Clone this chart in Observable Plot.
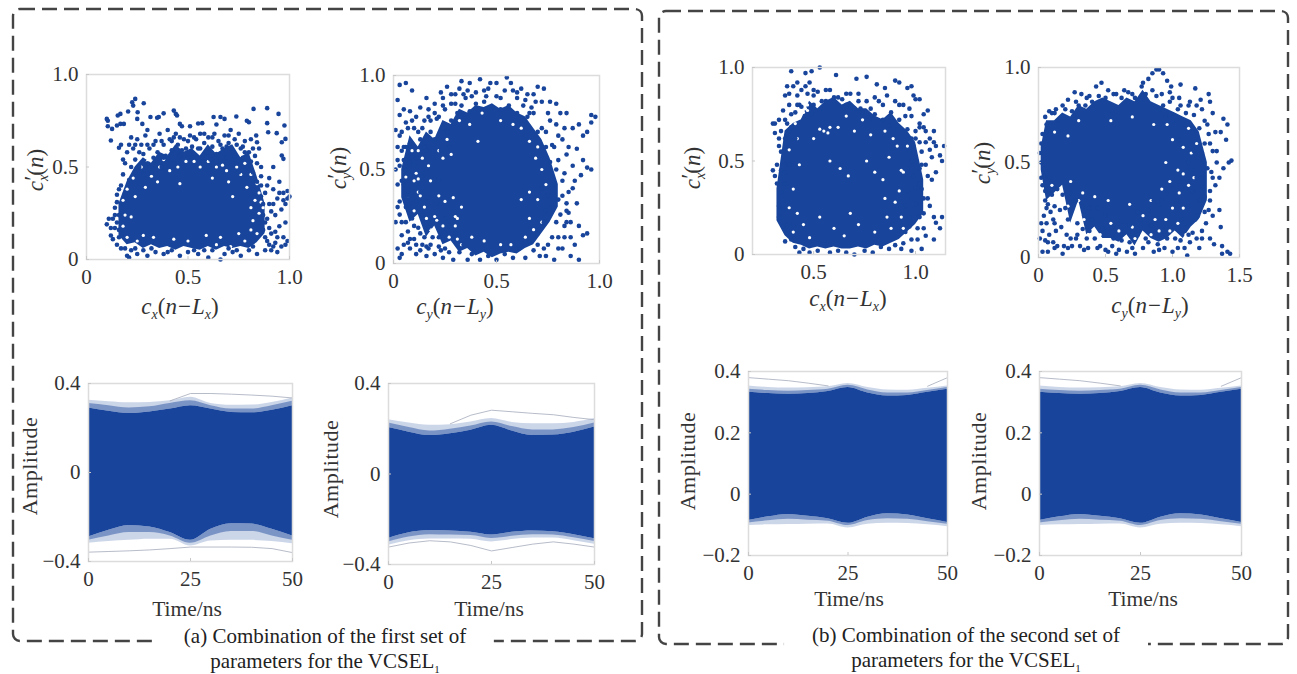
<!DOCTYPE html>
<html><head><meta charset="utf-8">
<script src="https://cdn.jsdelivr.net/npm/d3@7"></script>
<script src="https://cdn.jsdelivr.net/npm/@observablehq/plot@0.6"></script>
<style>
html,body{margin:0;padding:0;background:#fff}
#page{position:relative;width:1297px;height:674px;overflow:hidden;font-family:"Liberation Serif",serif;color:#333}
#page svg.box{position:absolute;left:0;top:0}
.plotwrap{position:absolute}
.lab{position:absolute;white-space:nowrap;font-size:21.5px;line-height:1;transform:translate(-50%,-50%)}
.lab.rot{transform:translate(-50%,-50%) rotate(-90deg)}
.lab.m{font-size:23px}
.lab.w{letter-spacing:.5px;font-size:22px}
.lab sub{font-size:14px;font-style:italic;vertical-align:-5px;line-height:0}
.lab .pr{display:inline-block;margin-left:-6px;transform:translateY(-3px);font-style:normal}
.lab .mn{padding:0 1px}
.cap{position:absolute;text-align:center;font-size:21px;line-height:25px;background:#fff;color:#222;transform:translateX(-50%);white-space:nowrap}
.cap sub{font-size:11px;line-height:0}
</style></head><body><div id="page"></div>
<script>
// ---------- dense cores: envelope of the solid region ----------
const coreStationsA=[.16,.2,.24,.28,.32,.36,.4,.44,.48,.52,.56,.6,.64,.68,.72,.76,.8,.84,.88];
const coreTopA=[.3,.42,.5,.55,.52,.58,.56,.62,.58,.6,.56,.62,.57,.6,.62,.55,.58,.45,.3];
const coreLowA=[.13,.08,.09,.06,.08,.06,.07,.05,.07,.06,.05,.07,.05,.07,.06,.07,.06,.09,.14];
const coreStationsB=[.04,.08,.12,.16,.2,.24,.28,.32,.36,.4,.44,.48,.52,.56,.6,.64,.68,.72,.76,.8];
const coreTopB=[.5,.68,.62,.7,.66,.76,.74,.82,.8,.84,.83,.85,.82,.84,.8,.78,.72,.66,.56,.42];
const coreLowB=[.35,.22,.26,.14,.2,.1,.12,.06,.08,.04,.06,.03,.05,.06,.05,.08,.1,.16,.22,.3];
const coreStationsC=[.32,.36,.4,.44,.48,.52,.56,.6,.64,.68,.72,.76,.8,.84,.88,.92,.96,1,1.04];
const coreTopC=[.35,.66,.7,.72,.82,.78,.82,.84,.8,.82,.78,.78,.74,.72,.76,.7,.66,.6,.4];
const coreLowC=[.18,.1,.06,.05,.03,.04,.03,.04,.03,.03,.04,.03,.05,.04,.06,.08,.12,.16,.22];
const coreStationsD=[.02,.06,.12,.18,.24,.3,.36,.42,.48,.54,.6,.66,.72,.78,.84,.9,.96,1.02,1.08,1.14,1.2,1.26];
const coreTopD=[.58,.72,.72,.76,.74,.8,.78,.82,.84,.82,.8,.84,.82,.88,.82,.8,.78,.76,.74,.72,.66,.5];
const coreLowD=[.46,.3,.34,.38,.18,.3,.12,.16,.1,.1,.08,.12,.06,.14,.1,.08,.1,.14,.1,.16,.2,.3];

// ---------- scatter values: [x, y] ----------
const pointsA=[[.1,.76],[.105,.75],[.105,.72],[.126,.706],[.15,.724],[.167,.733],[.184,.733],[.12,.643],[.16,.604],[.154,.778],[.167,.787],[.205,.8],[.225,.85],[.24,.868],[.23,.832],[.252,.796],[.282,.845],[.25,.76],[.275,.733],[.3,.7],[.315,.77],[.348,.766],[.356,.77],[.38,.79],[.43,.805],[.44,.787],[.446,.778],[.823,.814],[.89,.818],[.946,.787],[.89,.737],[.895,.688],[.937,.683],[.975,.724],[.98,.652],[.962,.634],[.962,.562],[.97,.544],[.738,.773],[.66,.77],[.626,.77],[.57,.737],[.51,.72],[.46,.733],[.8,.742],[.79,.75],[.836,.67],[.84,.634],[.68,.76],[.64,.73],[.55,.735],
[.17,.62],[.19,.52],[.2,.58],[.22,.66],[.23,.6],[.24,.54],[.25,.65],[.26,.5],[.27,.62],[.28,.57],[.29,.67],[.3,.52],[.31,.6],[.32,.47],[.33,.55],[.34,.64],[.35,.58],[.36,.68],[.37,.5],[.38,.62],[.39,.56],[.4,.7],[.41,.65],[.42,.59],[.43,.52],[.44,.68],[.45,.62],[.46,.56],[.47,.72],[.48,.65],[.49,.6],[.5,.55],[.51,.67],[.52,.61],[.53,.57],[.54,.65],[.55,.6],[.56,.68],[.57,.55],[.58,.63],[.59,.58],[.6,.66],[.61,.54],[.62,.61],[.63,.68],[.64,.57],[.65,.64],[.66,.53],[.67,.6],[.68,.67],[.69,.55],[.7,.63],[.71,.7],[.72,.58],[.73,.65],[.74,.52],[.75,.68],[.76,.6],[.77,.55],[.78,.64],[.79,.5],[.8,.58],[.81,.65],[.82,.47],[.83,.56],[.84,.42],[.85,.6],[.86,.5],
[.22,.5],[.26,.58],[.3,.62],[.34,.51],[.38,.55],[.42,.64],[.47,.59],[.52,.55],[.56,.6],[.6,.58],[.65,.56],[.69,.61],[.73,.56],[.77,.61],[.81,.53],[.21,.43],[.24,.47],[.28,.46],[.75,.47],[.79,.44],[.83,.36],[.86,.34],
[.24,.62],[.33,.62],[.37,.64],[.43,.66],[.46,.66],[.5,.64],[.53,.66],[.58,.68],[.62,.66],[.66,.62],[.7,.67],[.74,.62],[.78,.58],[.82,.6],[.84,.52],[.18,.54],[.21,.62],
[.86,.4],[.87,.3],[.88,.36],[.89,.22],[.9,.44],[.9,.3],[.91,.14],[.92,.5],[.92,.38],[.93,.24],[.93,.09],[.94,.33],[.95,.18],[.95,.42],[.96,.07],[.96,.27],[.97,.36],[.97,.12],[.98,.3],[.98,.2],[.99,.37],[.99,.1],[1,.34],[.98,.08],[.89,.1],[.87,.16],[.88,.05],[.91,.05],[.94,.04],[.87,.24],[.85,.2],[.9,.17],[.94,.12],[.92,.3],[.89,.4],[.91,.26],[.95,.36],[.93,.15],[.88,.2],[.9,.08],[.92,.07],[.86,.45],[.88,.12],[.97,.32],[.99,.33],
[.1,.19],[.11,.22],[.12,.13],[.13,.22],[.14,.28],[.14,.17],[.15,.08],[.15,.35],[.16,.24],[.16,.12],[.17,.4],[.17,.06],[.18,.46],[.18,.3],[.15,.2],[.13,.11],[.19,.36],[.14,.24],[.15,.31],[.12,.17],[.16,.38],[.16,.16],
[.2,.02],[.22,.05],[.21,.01],[.25,.03],[.28,.05],[.3,.02],[.34,.04],[.38,.03],[.42,.05],[.46,.02],[.5,.04],[.55,.03],[.6,.01],[.62,.05],[.66,0],[.68,.03],[.72,.04],[.76,.02],[.8,.05],[.84,.03],[.19,.06],[.24,.06],[.32,.06],[.4,.04],[.53,.05],[.58,.05],[.7,.06],[.74,.05],[.82,.07]];
const holesA=[[.85,.36],[.85,.25],[.72,.34],[.64,.5],[.36,.5],[.32,.45],[.29,.39],[.18,.32],[.22,.23],[.82,.21],[.81,.16],[.71,.07],[.64,.08],[.59,.13],[.33,.12],[.46,.41],[.53,.53],[.41,.48],[.23,.44],[.69,.48],[.76,.46],[.79,.39],[.87,.28],[.2,.38],[.27,.5],[.3,.53],[.35,.42],[.38,.54],[.45,.5],[.49,.53],[.56,.5],[.6,.53],[.62,.44],[.67,.51],[.7,.42],[.74,.5],[.78,.52],[.81,.46],[.83,.32],[.81,.28],[.84,.14],[.78,.1],[.75,.14],[.25,.1],[.2,.12],[.28,.13],[.43,.11],[.5,.1],[.66,.12],[.24,.34],[.18,.18],[.19,.24],[.84,.41],[.86,.31]];

const pointsB=[[.02,.87],[.03,.79],[.03,.95],[.06,.96],[.09,.92],[.05,.82],[.08,.81],[.01,.71],[.13,.83],[.16,.88],[.17,.82],[.2,.8],[.23,.91],[.26,.94],[.28,.85],[.3,.9],[.33,.97],[.37,.96],[.38,.89],[.42,.98],[.44,.92],[.47,.96],[.5,.96],[.52,.88],[.55,.99],[.57,.96],[.58,.92],[.62,.93],[.65,.9],[.68,.9],[.7,.94],[.73,.93],[.76,.86],[.79,.85],[.81,.8],[.84,.8],[.87,.72],[.9,.74],[.92,.68],[.94,.7],[.89,.61],[.92,.55],[.94,.51],[.96,.5],[.91,.47],[.92,.15],[.94,.16],[.9,.2],[.96,.79],[.98,.78],[.96,.75],
[.02,.62],[.04,.7],[.05,.55],[.06,.75],[.07,.48],[.08,.64],[.09,.4],[.1,.72],[.11,.56],[.12,.3],[.13,.66],[.14,.46],[.15,.76],[.16,.6],[.17,.35],[.18,.7],[.19,.22],[.02,.42],[.03,.33],[.04,.22],[.05,.1],[.06,.3],[.07,.17],[.08,.08],[.09,.24],[.1,.13],[.11,.33],[.12,.19],[.13,.07],[.14,.26],[.15,.14],[.16,.04],[.17,.19],[.18,.1],[.01,.22],[.02,.08],[.03,.03],[.1,.52],[.13,.38],[.06,.62],[.16,.5],[.03,.52],[.01,.5],[.02,.3],[.04,.44],[.05,.62],[.07,.72],[.11,.78],[.14,.72],[.18,.76],[.22,.78],[.25,.82],[.03,.68],[.04,.15],[.08,.13],[.11,.05],[.14,.1],[.17,.08],[.2,.05],[.23,.07],[.06,.22],
[.2,.66],[.21,.77],[.22,.14],[.23,.6],[.24,.84],[.25,.08],[.26,.7],[.27,.2],[.28,.76],[.29,.02],[.3,.16],[.31,.8],[.32,.06],[.33,.84],[.34,.1],[.35,.88],[.36,.02],[.37,.81],[.38,.05],[.4,.85],[.42,.02],[.44,.86],[.46,.04],[.48,.83],[.5,.02],[.52,.82],[.54,.05],[.56,.84],[.58,.03],[.6,.8],[.61,.08],[.63,.84],[.64,.03],[.65,.78],[.66,.12],[.68,.07],[.68,.8],[.7,.16],[.71,.04],[.72,.72],[.73,.22],[.74,.62],[.75,.1],[.76,.76],[.77,.3],[.78,.02],[.79,.5],[.8,.14],[.8,.68],[.82,.36],[.83,.2],[.84,.58],[.85,.27],[.86,.04],[.87,.4],[.88,.1],[.89,.32],[.9,.02],[.78,.42],[.81,.26],[.76,.54],[.75,.36],[.72,.4],[.83,.48],[.85,.38],[.74,.28],[.79,.22],[.77,.63],[.7,.7],[.66,.8],[.27,.62],[.24,.72],[.22,.45],[.25,.24],[.21,.32],[.82,.44],[.8,.55],[.84,.32],[.78,.62],[.82,.66],[.74,.7],[.69,.86],[.6,.88],[.45,.89],[.34,.9],[.3,.85],[.86,.14],[.82,.08],[.77,.14],[.73,.08],[.8,.34],[.84,.22],
[.04,.6],[.06,.5],[.08,.54],[.02,.55],[.05,.42],[.07,.36],[.03,.26],[.09,.3],[.11,.42],[.13,.5],[.15,.62],[.12,.7],[.09,.76],[.17,.78],[.2,.85],[.24,.88],[.28,.9],[.32,.93],[.36,.92],[.4,.91],[.46,.93],[.5,.89],[.54,.92],[.6,.91],[.64,.87],[.67,.83],[.72,.86],[.75,.8],[.79,.74],[.83,.72],[.85,.62],[.87,.52],[.88,.44],[.84,.28],[.86,.22],[.83,.14],[.8,.08],[.7,.1],[.74,.04],[.1,.2],[.13,.16],[.16,.09],[.07,.11],[.04,.05],[.11,.1],[.19,.14],[.22,.09],[.24,.03],[.27,.06]];
const holesB=[[.11,.48],[.12,.45],[.1,.44],[.07,.2],[.08,.19],[.2,.25],[.21,.23],[.12,.38],[.13,.36],[.3,.2],[.09,.6],[.14,.56],[.18,.44],[.17,.52],[.22,.6],[.24,.56],[.2,.73],[.26,.66],[.28,.58],[.32,.76],[.37,.74],[.41,.65],[.43,.8],[.52,.76],[.58,.74],[.62,.72],[.66,.65],[.69,.56],[.72,.5],[.7,.62],[.74,.42],[.7,.34],[.72,.22],[.68,.18],[.66,.24],[.64,.14],[.57,.1],[.52,.1],[.44,.12],[.38,.14],[.31,.13],[.33,.1],[.27,.14],[.24,.2],[.18,.18],[.15,.3],[.16,.24],[.1,.28],[.22,.36],[.25,.33],[.29,.35],[.33,.3],[.07,.36],[.06,.46],[.12,.6],[.3,.25],[.31,.24],[.62,.34],[.66,.38]];

const pointsC=[[.39,.98],[.46,.97],[.49,.98],[.53,1],[.61,.96],[.71,.94],[.76,.95],[.81,.91],[.85,.89],[.9,.93],[.92,.92],[.96,.89],[.98,.9],[1,.83],[1.02,.83],[.99,.85],[1.06,.77],[1.04,.75],[1.09,.66],[1.07,.62],[1.14,.58],[1.12,.53],[1.13,.5],[1.1,.44],[1.08,.4],[1.06,.3],[1.09,.2],[1.13,.2],[1.1,.17],[1.12,.14],[1.05,.1],[1.09,.08],[1.03,.03],
[.3,.7],[.31,.65],[.3,.45],[.31,.42],[.33,.58],[.33,.72],[.32,.48],[.34,.2],[.35,.77],[.34,.33],[.35,.15],[.36,.07],[.36,.85],[.37,.9],[.38,.8],[.39,.68],[.4,.9],[.41,.76],[.42,.92],[.43,.8],[.44,.88],[.45,.72],[.47,.86],[.48,.92],[.5,.8],[.52,.87],[.54,.82],[.56,.82],[.58,.88],[.6,.8],[.62,.84],[.64,.83],[.66,.8],[.68,.86],[.7,.78],[.72,.82],[.74,.76],[.76,.82],[.78,.78],[.8,.75],[.82,.82],[.84,.72],[.86,.85],[.88,.76],[.9,.82],[.92,.72],[.94,.8],[.96,.67],[.98,.74],[1,.66],[1.02,.6],[1.04,.68],[.94,.6],[.97,.55],[1,.5],[1.03,.55],[1.05,.48],[.99,.42],[1.02,.38],[.96,.34],[1,.27],[1.04,.22],[.97,.2],[1.01,.14],[.98,.08],[.95,.12],[1.07,.56],[1.08,.52],[.98,.62],[.94,.42],[.96,.46],[.95,.26],
[.36,.62],[.35,.5],[.36,.38],[.37,.28],[.38,.48],[.34,.45],[.33,.26],[.35,.24],[.37,.16],[.39,.08],[.41,.04],[.43,.01],[.45,.03],[.48,.01],[.52,.02],[.58,.01],[.62,.02],[.66,.01],[.7,0],[.75,.02],[.79,.01],[.83,.04],[.87,.03],[.9,.05],[.94,.06],[.98,.02],[.4,.16],[.38,.66],[.37,.7],[.41,.62],[.44,.79],[.49,.75],[.53,.77],[.6,.84],[.68,.79],[.73,.78],[.79,.72],[.87,.69],[.91,.67],[.34,.66],[.34,.55],[.32,.38],[.33,.2],[.36,.72],[.39,.75],[.42,.85],[.46,.9],[.5,.88],[.56,.88],[.98,.3],[1.02,.46],[1.0,.36],[.98,.5],[.97,.15],[1,.62],[1.02,.68],[.95,.74],[.99,.58],[1.05,.6],[1.04,.3],[1.02,.2],
[.33,.62],[.31,.7],[.38,.86],[.42,.8],[.5,.85],[.66,.86],[.72,.86],[.8,.84],[.84,.8],[.92,.8],[.97,.78],[1.02,.7],[1.05,.66],[1.09,.6],[1.1,.58],[1.03,.48],[1.06,.42],[1.03,.35],[1.07,.26],[1.04,.14],[1.01,.08],[.93,.03],[.36,.44]];
const holesC=[[.46,.78],[.47,.77],[.45,.76],[.47,.8],[.55,.66],[.57,.65],[.53,.67],[.41,.7],[.58,.5],[.63,.46],[.67,.42],[.76,.5],[.8,.44],[.87,.52],[.91,.58],[.93,.45],[.94,.44],[.92,.34],[.9,.28],[.93,.2],[.94,.14],[.86,.2],[.88,.14],[.8,.12],[.72,.16],[.68,.22],[.6,.14],[.53,.2],[.45,.16],[.42,.22],[.38,.25],[.4,.35],[.43,.48],[.38,.56],[.42,.62],[.5,.62],[.62,.68],[.7,.66],[.74,.72],[.78,.64],[.85,.66],[.89,.62],[.96,.58],[.84,.4],[.85,.3],[.4,.12],[.48,.09],[.65,.1],[.58,.68],[.66,.74]];

const pointsD=[[.77,.9],[.82,.94],[.85,.97],[.88,.99],[.9,.99],[.93,.97],[.96,.93],[1.06,.91],[1.17,.89],[1.27,.86],[.99,.9],[.98,.87],[1.05,.84],[1.13,.82],[1.21,.83],[1.28,.82],[1.3,.76],[1.38,.73],[1.41,.7],[1.36,.66],[1.4,.62],[1.44,.51],[1.42,.5],[1.38,.47],[1.33,.5],[1.35,.42],[1.32,.38],[1.28,.35],[1.35,.25],[1.3,.22],[1.36,.16],[1.28,.1],[1.22,.1],[1.31,.07],[1.37,.06],[1.41,.03],[1.43,.02],[1.37,.02],[1.2,.05],[1.11,.01],[1.09,.05],
[.27,.87],[.32,.86],[.38,.85],[.43,.9],[.47,.92],[.5,.84],[.56,.86],[.62,.84],[.67,.87],[.72,.84],[.8,.86],[.88,.85],[.93,.8],[.98,.82],[1.04,.78],[1.1,.76],[1.16,.75],[1.22,.78],[1.26,.7],[1.2,.68],[1.28,.6],[1.32,.66],[1.15,.66],[1.22,.55],[1.26,.47],[1.18,.42],[1.24,.32],[1.15,.35],[1.12,.27],[1.19,.22],[1.25,.18],[1.1,.18],[1.15,.13],[1.03,.3],[1.07,.2],[1.02,.1],[.97,.22],[.93,.14],[.89,.07],[.84,.17],[.8,.1],[.76,.2],[.72,.02],[.68,.08],[.64,.13],[.6,.04],[.56,.1],[.52,.03],[.48,.15],[.44,.05],[.4,.2],[.36,.1],[.33,.27],[.29,.18],[.26,.3],[.22,.2],[.19,.06],[.18,.02],[.16,.25],[.12,.18],[.08,.12],[.06,.18],[.04,.22],[.07,.03],[.03,.03],[.05,.09],[.11,.08],[.14,.06],[.24,.1],[.31,.06],[.38,.14],[.42,.1],
[.01,.55],[.02,.6],[.03,.65],[.04,.43],[.05,.74],[.06,.7],[.08,.77],[.1,.76],[.13,.78],[.15,.72],[.18,.8],[.22,.83],[.25,.77],[.3,.8],[.35,.8],[.4,.82],[.02,.5],[.03,.38],[.05,.35],[.08,.42],[.06,.26],[.1,.33],[.14,.36],[.12,.27],[.18,.33],[.2,.26],[.24,.34],[.28,.3],[.34,.22],[.38,.26],[.44,.26],[.5,.22],[.55,.16],[.62,.19],[.68,.17],[.74,.24],[.82,.25],[.86,.3],[.9,.28],[.96,.34],[1.0,.36],[1.06,.4],[1.12,.5],[1.16,.56],[1.08,.7],[1.03,.72],[.95,.74],[.9,.78],[1.14,.46],[1.1,.36],[.88,.22],[.92,.3],[1.05,.62],[1.24,.6],[1.3,.56],[1.29,.45],[1.22,.42],[1.2,.3],[1.27,.25],[1.22,.14],[1.17,.2],[1.13,.08],[.28,.1],[.22,.05],[.34,.04],[.46,.06],[.58,.02],[.66,.03],[.78,.05],[.86,.03],[.94,.05],[1.0,.03],[1.06,.09],[.12,.05],[.02,.18],[.07,.28],[.11,.2],[.01,.1],
[.02,.42],[.05,.3],[.09,.24],[.13,.14],[.17,.16],[.21,.12],[.25,.06],[.29,.12],[.33,.15],[.37,.05],[.03,.14],[.07,.08],[.5,.04],[.55,.06],[.62,.09],[.7,.05],[.74,.12],[.82,.08],[.9,.04],[.96,.1],[1.04,.05],[1.12,.12],[1.18,.1],[1.24,.24],[1.28,.3],[1.3,.42],[1.33,.56],[1.27,.65],[1.24,.72],[1.18,.8],[1.12,.8],[1.06,.8],[1.0,.84],[.92,.86],[.85,.88],[.78,.92],[.7,.86],[.64,.88],[.58,.86],[.52,.88],[.45,.85],[.36,.84],[.28,.82],[.2,.78],[.12,.76],[.06,.66]];
const holesD=[[.14,.1],[.15,.09],[.13,.08],[.16,.11],[.14,.13],[.33,.11],[.32,.09],[.12,.22],[.2,.14],[.22,.27],[.28,.22],[.34,.2],[.3,.3],[.14,.3],[.1,.38],[.16,.36],[.24,.4],[.33,.34],[.4,.14],[.46,.12],[.5,.08],[.54,.18],[.6,.14],[.64,.1],[.7,.16],[.72,.1],[.78,.22],[.84,.12],[.87,.2],[.9,.14],[.95,.2],[.98,.14],[1,.26],[1.04,.18],[1.08,.26],[1.1,.12],[.84,.3],[.92,.36],[.98,.4],[1.04,.46],[1.08,.44],[1.12,.38],[1.16,.42],[1.14,.55],[1.18,.6],[1.08,.58],[1,.62],[1.12,.68],[.96,.7],[.86,.7],[.7,.74],[.54,.72],[.3,.72],[.22,.64],[.12,.66],[.68,.28],[.52,.3],[.42,.32],[.95,.5],[1.05,.34]];

// ---------- eye diagram envelopes ----------
const eyeTimes=[0,5,10,15,20,25,30,35,40,45,50];
const eyeA={solidTop:[.29,.275,.265,.272,.285,.3,.285,.27,.268,.28,.3],solidLow:[-.29,-.26,-.238,-.245,-.27,-.305,-.255,-.23,-.232,-.255,-.285],
 fringeTop:[.325,.318,.313,.315,.322,.338,.31,.302,.303,.315,.335],fringeLow:[-.318,-.31,-.305,-.3,-.3,-.33,-.308,-.305,-.305,-.31,-.32],
 streakTop:[.31,.3,.29,.295,.31,.322,.3,.285,.285,.3,.32],streakLow:[-.305,-.285,-.27,-.27,-.285,-.318,-.285,-.265,-.265,-.285,-.305],
 outTop:[null,null,null,null,.322,.355,.355,.352,.348,.343,.335],outLow:[-.358,-.355,-.352,-.348,-.342,-.335,-.335,-.335,-.336,-.342,-.36]};
const eyeB={solidTop:[.205,.185,.17,.178,.193,.215,.19,.17,.172,.185,.208],solidLow:[-.285,-.26,-.25,-.252,-.258,-.27,-.258,-.252,-.255,-.268,-.286],
 fringeTop:[.24,.225,.215,.218,.23,.245,.228,.222,.222,.228,.245],fringeLow:[-.315,-.295,-.287,-.287,-.288,-.3,-.29,-.283,-.283,-.295,-.31],
 streakTop:[.225,.205,.19,.198,.212,.23,.21,.195,.195,.205,.225],streakLow:[-.3,-.278,-.268,-.27,-.272,-.285,-.275,-.268,-.27,-.282,-.298],
 outTop:[null,null,null,.222,.26,.282,.275,.268,.262,.25,.24],outLow:[-.323,-.305,-.295,-.3,-.316,-.34,-.325,-.31,-.3,-.31,-.323]};
const eyeC={solidTop:[.332,.328,.326,.328,.335,.348,.33,.32,.322,.332,.342],solidLow:[-.086,-.074,-.066,-.072,-.08,-.095,-.075,-.064,-.068,-.08,-.092],
 fringeTop:[.353,.348,.346,.347,.35,.361,.348,.34,.339,.345,.353],fringeLow:[-.102,-.1,-.099,-.098,-.097,-.11,-.098,-.095,-.096,-.1,-.106],
 streakTop:[.342,.338,.336,.338,.342,.355,.34,.33,.33,.338,.348],streakLow:[-.094,-.087,-.082,-.085,-.088,-.102,-.086,-.08,-.082,-.09,-.098],
 outTop:[.38,.375,.37,.362,.353,null,null,null,null,.352,.38],outLow:[null,null,null,null,null,null,null,null,null,null,null]};
const eyeD=eyeC;

// ---------- ticks and labels ----------
const ticksUnit=[0,.5,1], ticksHalf=[.5,1], ticksWide=[0,.5,1,1.5];
const ticksAmpWide=[-.4,0,.4], ticksAmpNarrow=[-.2,0,.2,.4], ticksTime=[0,25,50];
const yLabelX="<i>c</i><sub>x</sub><span class='pr'>′</span>(<i>n</i>)";
const yLabelY="<i>c</i><sub>y</sub><span class='pr'>′</span>(<i>n</i>)";
const xLabelX="<i>c</i><sub>x</sub>(<i>n</i><span class='mn'>−</span><i>L</i><sub>x</sub>)";
const xLabelY="<i>c</i><sub>y</sub>(<i>n</i><span class='mn'>−</span><i>L</i><sub>y</sub>)";
const captionA=["(a) Combination of the first set of","parameters for the VCSEL<sub>1</sub>"];
const captionB=["(b) Combination of the second set of","parameters for the VCSEL<sub>1</sub>"];

const BLUE="#18459b";
const page=document.getElementById("page");
const mL=70,mR=30,mT=12,mB=36;
const fmt=d=>d===0?"0":(d<0?"−":"")+Math.abs(d).toFixed(1);

function place(node,f){
  const w=document.createElement("div");w.className="plotwrap";
  w.style.left=(f[0]-mL)+"px";w.style.top=(f[1]-mT)+"px";w.appendChild(node);page.appendChild(w);
}
function axes(xt,yt,xf,yf){
  return [
    Plot.frame({stroke:"#dcdcdc",strokeWidth:1.5}),
    Plot.axisX({ticks:xt,tickFormat:xf,tickSize:-3,tickPadding:13,stroke:"#c8c8c8",label:null}),
    Plot.axisY({ticks:yt,tickFormat:yf,tickSize:-3,tickPadding:11,stroke:"#c8c8c8",label:null})
  ];
}
function base(f,xd,yd,marks){
  return Plot.plot({width:f[2]-f[0]+mL+mR,height:f[3]-f[1]+mT+mB,marginLeft:mL,marginRight:mR,marginTop:mT,marginBottom:mB,
    x:{domain:xd},y:{domain:yd},
    style:{background:"transparent",fontFamily:"Liberation Serif",fontSize:"21px",color:"#333",overflow:"visible"},marks});
}
function scatter(f,xd,xt,st,top,low,pts,holes){
  const core=st.map((x,i)=>({x,y1:low[i],y2:top[i]}));
  place(base(f,xd,[0,1],[
    Plot.areaY(core,{x:"x",y1:"y1",y2:"y2",fill:BLUE}),
    Plot.dot(holes,{x:d=>d[0],y:d=>d[1],r:1.6,fill:"#fff",stroke:"none"}),
    Plot.dot(pts,{x:d=>d[0],y:d=>d[1],r:2.3,fill:BLUE,stroke:"none"}),
    ...axes(xt,[0,.5,1],fmt,fmt)
  ]),f);
}
function eye(f,yd,yt,e){
  const rows=eyeTimes.map((t,i)=>({t,st:e.solidTop[i],sl:e.solidLow[i],ft:e.fringeTop[i],fl:e.fringeLow[i],kt:e.streakTop[i],kl:e.streakLow[i],ot:e.outTop[i],ol:e.outLow[i]}));
  place(base(f,[0,50],yd,[
    Plot.areaY(rows,{x:"t",y1:"ft",y2:"st",fill:BLUE,fillOpacity:.22,curve:"monotone-x"}),
    Plot.areaY(rows,{x:"t",y1:"fl",y2:"sl",fill:BLUE,fillOpacity:.22,curve:"monotone-x"}),
    Plot.areaY(rows,{x:"t",y1:"kt",y2:"st",fill:BLUE,fillOpacity:.45,curve:"monotone-x"}),
    Plot.areaY(rows,{x:"t",y1:"kl",y2:"sl",fill:BLUE,fillOpacity:.45,curve:"monotone-x"}),
    Plot.lineY(rows,{x:"t",y:"ot",stroke:"#a4abbb",strokeWidth:.8}),
    Plot.lineY(rows,{x:"t",y:"ol",stroke:"#a4abbb",strokeWidth:.8}),
    Plot.areaY(rows,{x:"t",y1:"sl",y2:"st",fill:BLUE,curve:"monotone-x"}),
    ...axes(ticksTime,yt,d=>String(d),fmt)
  ]),f);
}
function label(html,x,y,cls){
  const d=document.createElement("div");d.className="lab "+(cls||"");d.innerHTML=html;
  d.style.left=x+"px";d.style.top=y+"px";page.appendChild(d);
}
page.insertAdjacentHTML("beforeend",`<svg class="box" width="1297" height="674"><g fill="none" stroke="#444" stroke-width="2.4" stroke-dasharray="15 7">
<rect x="13" y="9" width="629" height="632" rx="7"/><rect x="659" y="11" width="629" height="633" rx="7"/></g></svg>`);

scatter([86,74,289,259],[0,1],ticksUnit,coreStationsA,coreTopA,coreLowA,pointsA,holesA);
scatter([393,75,599,263],[0,1],ticksUnit,coreStationsB,coreTopB,coreLowB,pointsB,holesB);
scatter([752,67,945,254],[.2,1.147],ticksHalf,coreStationsC,coreTopC,coreLowC,pointsC,holesC);
scatter([1038,67,1239,257],[0,1.5],ticksWide,coreStationsD,coreTopD,coreLowD,pointsD,holesD);
eye([88,383,292,561],[-.4,.4],ticksAmpWide,eyeA);
eye([388,383,594,564],[-.4,.4],ticksAmpWide,eyeB);
eye([748,371,947,555],[-.2,.4],ticksAmpNarrow,eyeC);
eye([1039,371,1241,555],[-.2,.4],ticksAmpNarrow,eyeD);

label(yLabelX,35,170,"rot m");label(xLabelX,180,306,"m");
label(yLabelY,338,168,"rot m");label(xLabelY,455,306,"m");
label(yLabelX,692,168,"rot m");label(xLabelX,848,298,"m");
label(yLabelY,982,163,"rot m");label(xLabelY,1150,305,"m");
[[30,466,187,610],[331,469,489,610],[688,461,849,600],[979,461,1143,600]].forEach(p=>{label("Amplitude",p[0],p[1],"rot w");label("Time/ns",p[2],p[3]);});

function caption(lines,cx,top){
  const d=document.createElement("div");d.className="cap";d.style.left=cx+"px";d.style.top=top+"px";
  d.style.padding="0 28px";d.innerHTML=lines.join("<br>");page.appendChild(d);
}
caption(captionA,325,624);
caption(captionB,966,623);
</script></body></html>
